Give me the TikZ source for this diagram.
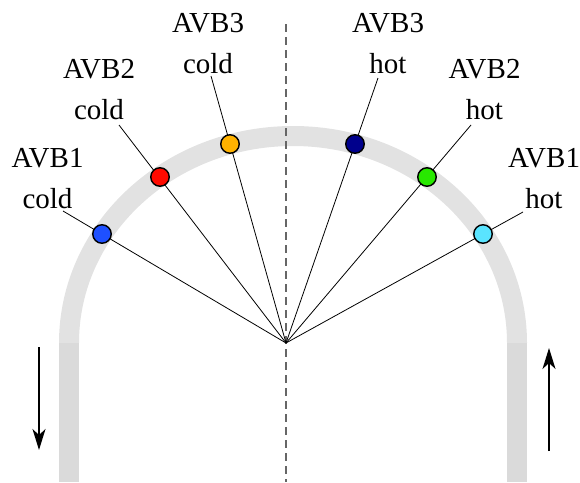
\documentclass[tikz,border=0pt]{standalone}
\usepackage{fontspec}
\setmainfont{Liberation Serif}
\newfontfamily\labelfont{Liberation Serif}
\usetikzlibrary{arrows.meta}
\definecolor{bandarc}{HTML}{E2E2E2}
\definecolor{bandline}{HTML}{DADADA}
\definecolor{cblue}{RGB}{30,80,255}
\definecolor{cred}{RGB}{255,10,0}
\definecolor{corange}{RGB}{255,178,0}
\definecolor{cnavy}{RGB}{0,0,140}
\definecolor{cgreen}{RGB}{40,232,0}
\definecolor{ccyan}{RGB}{90,228,255}
\definecolor{dashgray}{HTML}{666666}
\begin{document}
\begin{tikzpicture}[x=1pt,y=-1pt,
  band/.style={line width=20pt},
  spoke/.style={draw=black, line width=0.8pt},
  dot/.style={circle, draw=black, line width=1.4pt, minimum size=18.5pt, inner sep=0pt},
  lbl/.style={align=center, anchor=base, inner sep=0pt,
    font=\labelfont\fontsize{29}{41}\selectfont},
  flow/.style={line width=1.4pt, -{Stealth[length=21pt, width=13pt, inset=6pt]}},
  axis/.style={dashgray, line width=1.4pt, dash pattern=on 8pt off 5pt}]
\useasboundingbox (0,0) rectangle (580,482);
% band
\draw[band, bandarc] (69,343) arc[start angle=180, end angle=360, x radius=224, y radius=207];
\draw[band, bandline] (69,343) -- (69,482);
\draw[band, bandline] (517,343) -- (517,482);
% axis
\coordinate (atop) at (286,24);
\coordinate (abot) at (286,482);
\draw[axis] (atop) -- (abot);
% centre
\coordinate (c) at (286,343);
% free ends
\coordinate (e1) at (63,211);
\coordinate (e2) at (119,125);
\coordinate (e3) at (211,76);
\coordinate (e4) at (378,78);
\coordinate (e5) at (471,125);
\coordinate (e6) at (523,212);
\draw[spoke] (c) -- (e1);
\draw[spoke] (c) -- (e2);
\draw[spoke] (c) -- (e3);
\draw[spoke] (c) -- (e4);
\draw[spoke] (c) -- (e5);
\draw[spoke] (c) -- (e6);
% dots
\node[dot, fill=cblue] (d1) at (102,234) {};
\node[dot, fill=cred] (d2) at (160,177) {};
\node[dot, fill=corange] (d3) at (230,144) {};
\node[dot, fill=cnavy] (d4) at (355,144) {};
\node[dot, fill=cgreen] (d5) at (427,177) {};
\node[dot, fill=ccyan] (d6) at (483,234) {};
% labels
\node[lbl] (l1) at (47.5,208) {AVB1\\cold};
\node[lbl] (l2) at (99,119) {AVB2\\cold};
\node[lbl] (l3) at (208,73) {AVB3\\cold};
\node[lbl] (l4) at (388,73) {AVB3\\hot};
\node[lbl] (l5) at (484.5,119) {AVB2\\hot};
\node[lbl] (l6) at (544,208) {AVB1\\hot};
% flow arrows
\coordinate (la) at (39,347);
\coordinate (lb) at (39,450);
\coordinate (ra) at (549,451);
\coordinate (rb) at (549,348);
\draw[flow] (la) -- (lb);
\draw[flow] (ra) -- (rb);
\end{tikzpicture}
\end{document}
